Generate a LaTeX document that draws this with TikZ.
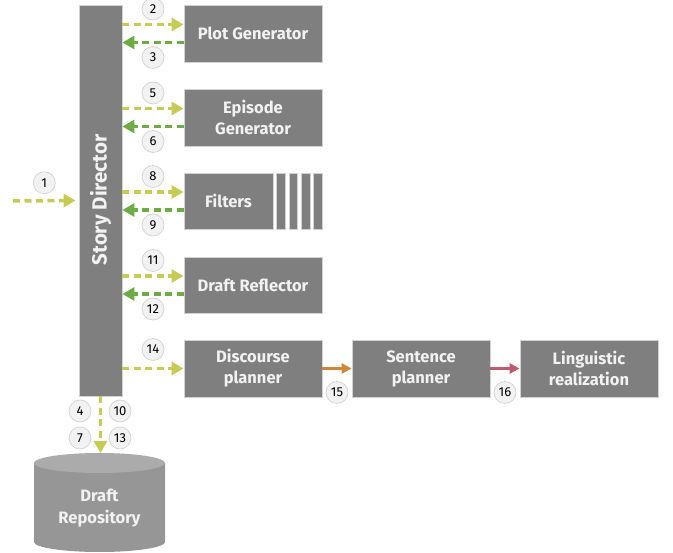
\documentclass[tikz,border=0pt]{standalone}
\usepackage{fontspec}
\setmainfont{Fira Sans}
\usetikzlibrary{arrows.meta, calc, positioning}
\definecolor{boxgray}{HTML}{7F7F7F}
\definecolor{boxtext}{HTML}{F2F2F2}
\definecolor{reqcol}{HTML}{C5CB55}
\definecolor{rescol}{HTML}{6DAB45}
\definecolor{flowa}{HTML}{D08537}
\definecolor{flowb}{HTML}{C0596E}
\definecolor{cyltop}{HTML}{ABABAB}
\definecolor{cylbody}{HTML}{969696}
\tikzset{
	stagebox/.style={draw=gray!35, line width=.8pt, fill=boxgray, text=boxtext, align=center,
		font=\fontsize{16.5}{21}\selectfont\bfseries, inner sep=0pt},
	numlabel/.style={circle, solid, draw=gray!35, line width=.7pt, fill=gray!10, text=black,
		minimum size=22, inner sep=0pt, font=\fontsize{13}{15}\selectfont},
	request/.style={draw=reqcol, line width=3.5pt, dash pattern=on 7pt off 4.5pt,
		-{Triangle[length=12pt, width=13pt]}},
	response/.style={draw=rescol, line width=3.5pt, dash pattern=on 7pt off 4.5pt,
		-{Triangle[length=12pt, width=13pt]}},
	handoff/.style={line width=2.5pt, -{Triangle[length=10pt, width=10pt]}}
}
\newcommand{\boxw}{138}
\newcommand{\boxh}{57}

\begin{document}
\begin{tikzpicture}[x=1pt, y=-1pt]
	\useasboundingbox (0,0) rectangle (673,553);
		% story director
		\node[stagebox, minimum width=43, minimum height=391] (director) at (100.5, 200.5) {};
		\node[text=boxtext, rotate=90, font=\fontsize{20.5}{24}\selectfont\bfseries] (directorname) at (100.5, 200) {Story Director};
		% modules
		\node[stagebox, minimum width=\boxw, minimum height=\boxh] (plot)      at (253, 33.5)  {Plot Generator};
		\node[stagebox, minimum width=\boxw, minimum height=\boxh] (episode)   at (253, 117.5) {Episode\\Generator};
		\node[stagebox, minimum width=89,    minimum height=56]    (filters)   at (228.5, 201) {Filters};
		\foreach \i in {1,...,4} {
			\node[stagebox, minimum width=8.5, minimum height=56] (stripe\i) at (268.5+12.4*\i, 201) {}; % filter bank
		};
		\node[stagebox, minimum width=\boxw, minimum height=56]    (reflector) at (253, 285)   {Draft Reflector};
		% pipeline
		\node[stagebox, minimum width=\boxw, minimum height=\boxh] (discourse)  at (253, 368.5) {Discourse\\planner};
		\node[stagebox, minimum width=\boxw, minimum height=\boxh] (sentence)   at (421, 368.5) {Sentence\\planner};
		\node[stagebox, minimum width=\boxw, minimum height=\boxh] (linguistic) at (589, 368.5) {Linguistic\\realization};
		% repository
		\fill[cylbody] (34,463) -- (34,542) arc[start angle=180, end angle=360, x radius=65.5pt, y radius=10pt] -- (165,463) -- cycle;
		\fill[cyltop] (99.5,463) ellipse[x radius=65.5pt, y radius=10pt];
		\node[text=boxtext, align=center, font=\fontsize{16.5}{22}\selectfont\bfseries] (repo) at (99.5, 508) {Draft\\Repository};
		\coordinate (repotop) at (100.5, 453);
		\coordinate (input) at (13, 201);
		% requests and responses
		\foreach \m/\a/\b in {plot/2/3, episode/5/6, filters/8/9, reflector/11/12} {
			\draw[request] ([yshift=9pt]\m.west -| director.east) -- ([yshift=9pt]\m.west)
				node[numlabel, midway, yshift=15.5pt] (n\a) {\a};
			\draw[response] ([yshift=-9pt]\m.west) -- ([yshift=-9pt]\m.west -| director.east)
				node[numlabel, midway, yshift=-15pt] (n\b) {\b};
		};
		\draw[request] (input) -- ([xshift=-3pt]director.west) node[numlabel, midway, yshift=18pt] (n1) {1};
		\draw[request] (director.east |- discourse.west) -- (discourse.west) node[numlabel, midway, yshift=19pt] (n14) {14};
		\draw[request] (director.south) -- (repotop);
		\node[numlabel] (n4)  at (80, 411)  {4};
		\node[numlabel] (n7)  at (80, 438)  {7};
		\node[numlabel] (n10) at (120, 411) {10};
		\node[numlabel] (n13) at (120, 438) {13};
		% handoffs
		\draw[handoff, flowa] (discourse.east) -- (sentence.west) node[numlabel, midway, yshift=-24pt] (n15) {15};
		\draw[handoff, flowb] (sentence.east) -- (linguistic.west) node[numlabel, midway, yshift=-24pt] (n16) {16};
	\end{tikzpicture}
\end{document}
